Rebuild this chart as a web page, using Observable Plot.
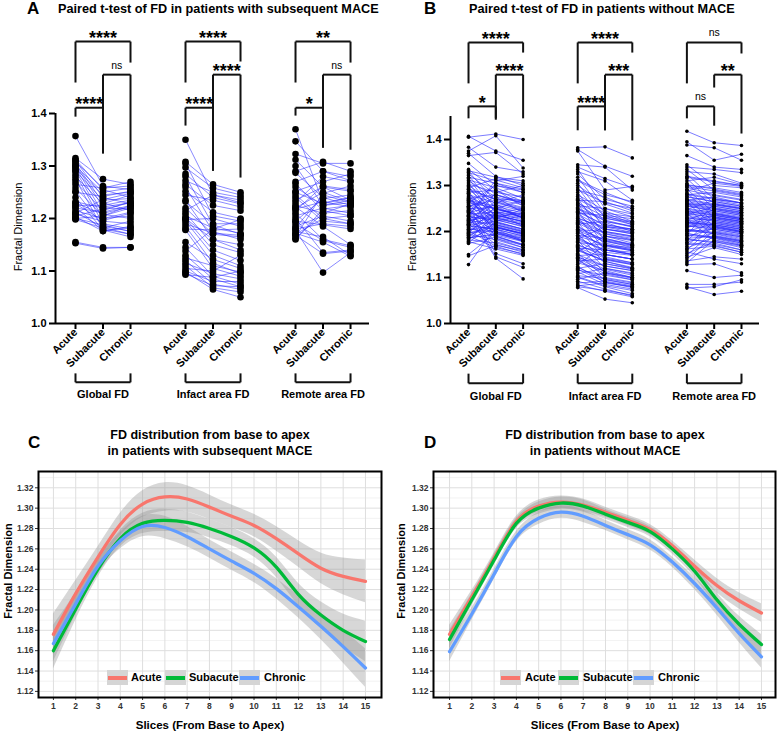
<!DOCTYPE html>
<html><head><meta charset="utf-8">
<script src="https://cdn.jsdelivr.net/npm/d3@7"></script>
<script src="https://cdn.jsdelivr.net/npm/@observablehq/plot@0.6"></script>
<style>
body{margin:0;background:#fff;}
#root{position:relative;width:777px;height:732px;font-family:"Liberation Sans",Arial,sans-serif;color:#000;overflow:hidden;background:#fff;}
.abs{position:absolute;white-space:nowrap;}
.letter{font-weight:bold;font-size:17px;line-height:17px;}
.ttl{font-weight:bold;font-size:12.7px;line-height:12px;}
.ttl2{font-weight:bold;font-size:12.5px;line-height:16px;text-align:center;width:300px;}
.ylab{font-size:11px;line-height:11px;transform:translate(-50%,-50%) rotate(-90deg);}
.ylab2{font-size:11px;font-weight:bold;line-height:11px;transform:translate(-50%,-50%) rotate(-90deg);}
.xlab{font-size:11.5px;font-weight:bold;line-height:12px;transform:translate(-50%,-50%);}
.key{position:absolute;width:21px;height:15px;background:#d5d5d5;}
.key i{position:absolute;left:1px;right:1px;top:6px;height:3.5px;display:block;}
.ktxt{font-size:11px;font-weight:bold;line-height:11px;}
.paired [aria-label="y-axis tick"] path,.paired [aria-label="x-axis tick"] path{stroke-width:2;}
svg{overflow:visible;}
</style></head>
<body><div id="root"></div>
<script>
// ---------- categories ----------
const times = ["Acute","Subacute","Chronic"];
const groups = ["Global FD","Infact area FD","Remote area FD"];

// ---------- Panel A: patients with subsequent MACE ----------
const A_global_acute = [1.357,1.315,1.312,1.310,1.308,1.305,1.302,1.300,1.298,1.295,1.292,1.290,1.285,1.280,1.275,1.270,1.265,1.258,1.252,1.250,1.240,1.232,1.228,1.225,1.222,1.220,1.215,1.212,1.210,1.208,1.205,1.203,1.200,1.200,1.198,1.155,1.153,1.230];
const A_global_subacute = [1.262,1.275,1.255,1.240,1.258,1.230,1.222,1.250,1.210,1.245,1.200,1.235,1.190,1.228,1.180,1.215,1.258,1.205,1.185,1.242,1.178,1.220,1.196,1.225,1.176,1.212,1.200,1.183,1.236,1.195,1.218,1.176,1.188,1.205,1.182,1.145,1.143,1.208];
const A_global_chronic = [1.255,1.265,1.240,1.228,1.262,1.215,1.230,1.258,1.222,1.250,1.205,1.238,1.180,1.245,1.170,1.232,1.270,1.225,1.176,1.252,1.165,1.218,1.210,1.235,1.185,1.225,1.212,1.170,1.248,1.190,1.230,1.183,1.175,1.220,1.195,1.145,1.145,1.200];
const A_infarct_acute = [1.350,1.308,1.305,1.297,1.285,1.280,1.272,1.265,1.260,1.252,1.245,1.235,1.232,1.220,1.215,1.210,1.205,1.200,1.198,1.195,1.190,1.185,1.180,1.178,1.155,1.145,1.138,1.130,1.125,1.120,1.115,1.110,1.105,1.100,1.098,1.095,1.093,1.200];
const A_infarct_subacute = [1.245,1.265,1.205,1.258,1.240,1.188,1.250,1.225,1.175,1.212,1.235,1.160,1.190,1.170,1.245,1.150,1.182,1.140,1.200,1.130,1.172,1.115,1.178,1.105,1.122,1.090,1.180,1.085,1.110,1.075,1.095,1.068,1.100,1.080,1.065,1.072,1.088,1.160];
const A_infarct_chronic = [1.235,1.250,1.195,1.245,1.228,1.170,1.240,1.215,1.160,1.200,1.222,1.140,1.190,1.165,1.230,1.135,1.172,1.120,1.185,1.110,1.168,1.095,1.180,1.090,1.105,1.075,1.198,1.070,1.098,1.065,1.085,1.060,1.130,1.080,1.050,1.070,1.100,1.150];
const A_remote_acute = [1.370,1.347,1.323,1.312,1.300,1.290,1.287,1.270,1.266,1.252,1.250,1.240,1.235,1.225,1.222,1.220,1.218,1.210,1.205,1.200,1.195,1.190,1.185,1.180,1.178,1.175,1.172,1.170,1.168,1.165,1.162,1.160,1.215,1.230,1.245,1.260,1.195,1.182];
const A_remote_subacute = [1.230,1.290,1.305,1.260,1.225,1.308,1.240,1.290,1.215,1.270,1.228,1.195,1.260,1.210,1.185,1.250,1.232,1.160,1.220,1.135,1.238,1.158,1.205,1.190,1.097,1.165,1.155,1.200,1.133,1.248,1.210,1.218,1.262,1.280,1.200,1.225,1.188,1.245];
const A_remote_chronic = [1.240,1.280,1.305,1.235,1.230,1.290,1.225,1.272,1.205,1.285,1.240,1.190,1.252,1.228,1.150,1.232,1.222,1.148,1.210,1.140,1.245,1.145,1.195,1.185,1.135,1.130,1.128,1.205,1.138,1.262,1.215,1.225,1.255,1.270,1.190,1.235,1.180,1.230];

// ---------- Panel B: patients without MACE ----------
const B_global_acute = [1.407,1.405,1.383,1.375,1.370,1.365,1.348,1.335,1.332,1.330,1.328,1.325,1.322,1.318,1.315,1.312,1.310,1.306,1.303,1.300,1.298,1.295,1.292,1.290,1.287,1.285,1.282,1.280,1.277,1.275,1.272,1.270,1.268,1.265,1.262,1.260,1.258,1.256,1.254,1.252,1.250,1.248,1.246,1.244,1.242,1.240,1.238,1.236,1.234,1.232,1.230,1.228,1.226,1.224,1.222,1.220,1.218,1.216,1.214,1.212,1.210,1.208,1.206,1.204,1.202,1.200,1.198,1.196,1.194,1.192,1.190,1.188,1.186,1.184,1.182,1.180,1.178,1.176,1.174,1.150,1.147,1.128,1.255,1.245,1.235,1.225,1.215,1.205,1.263,1.273,1.283,1.293,1.243,1.233,1.223,1.213,1.253,1.267,1.197,1.187];
const B_global_subacute = [1.375,1.412,1.340,1.408,1.320,1.372,1.300,1.290,1.318,1.265,1.310,1.280,1.250,1.305,1.240,1.295,1.275,1.230,1.285,1.260,1.222,1.315,1.245,1.270,1.208,1.290,1.235,1.262,1.196,1.248,1.280,1.215,1.255,1.228,1.300,1.205,1.240,1.268,1.190,1.232,1.252,1.210,1.275,1.185,1.220,1.258,1.242,1.200,1.312,1.226,1.178,1.238,1.265,1.214,1.196,1.250,1.230,1.172,1.222,1.205,1.285,1.190,1.244,1.212,1.168,1.235,1.200,1.255,1.182,1.218,1.165,1.228,1.195,1.208,1.175,1.240,1.162,1.220,1.188,1.198,1.170,1.210,1.152,1.145,1.142,1.232,1.262,1.200,1.250,1.225,1.185,1.270,1.215,1.305,1.236,1.205,1.280,1.248,1.210,1.192];
const B_global_chronic = [1.355,1.400,1.330,1.338,1.300,1.325,1.290,1.265,1.310,1.245,1.320,1.262,1.230,1.285,1.250,1.272,1.240,1.215,1.300,1.228,1.235,1.305,1.210,1.268,1.196,1.255,1.222,1.280,1.185,1.238,1.260,1.200,1.228,1.248,1.285,1.180,1.225,1.252,1.170,1.240,1.230,1.192,1.262,1.165,1.205,1.245,1.232,1.178,1.295,1.210,1.160,1.220,1.250,1.198,1.180,1.268,1.215,1.155,1.205,1.190,1.275,1.172,1.232,1.195,1.150,1.222,1.185,1.240,1.165,1.202,1.152,1.215,1.180,1.195,1.160,1.228,1.148,1.205,1.172,1.182,1.158,1.195,1.130,1.122,1.097,1.218,1.248,1.188,1.235,1.212,1.170,1.258,1.200,1.292,1.222,1.190,1.265,1.235,1.195,1.178];
const B_infarct_acute = [1.382,1.378,1.375,1.345,1.340,1.335,1.330,1.325,1.318,1.312,1.305,1.300,1.295,1.290,1.285,1.280,1.276,1.272,1.268,1.264,1.260,1.256,1.252,1.248,1.244,1.240,1.236,1.232,1.228,1.224,1.220,1.216,1.212,1.208,1.204,1.200,1.196,1.192,1.188,1.184,1.180,1.176,1.172,1.168,1.164,1.160,1.156,1.152,1.148,1.144,1.140,1.136,1.132,1.128,1.124,1.120,1.116,1.112,1.108,1.104,1.100,1.096,1.092,1.088,1.084,1.082,1.080,1.078,1.150,1.170,1.190,1.210,1.230,1.250,1.270,1.290,1.310,1.162,1.182,1.202,1.222,1.242,1.262,1.142,1.122,1.102,1.198,1.218,1.238,1.258,1.158,1.178,1.138,1.118,1.205,1.225,1.245,1.185,1.165,1.145];
const B_infarct_subacute = [1.384,1.342,1.290,1.340,1.315,1.250,1.310,1.270,1.240,1.285,1.230,1.260,1.220,1.275,1.205,1.245,1.235,1.190,1.265,1.215,1.180,1.250,1.200,1.225,1.170,1.235,1.195,1.160,1.210,1.185,1.150,1.222,1.175,1.140,1.200,1.165,1.130,1.185,1.155,1.210,1.120,1.170,1.145,1.110,1.160,1.135,1.190,1.100,1.150,1.125,1.095,1.140,1.115,1.170,1.090,1.130,1.105,1.085,1.120,1.098,1.080,1.110,1.075,1.092,1.070,1.088,1.072,1.053,1.125,1.150,1.172,1.180,1.205,1.228,1.240,1.262,1.280,1.135,1.160,1.178,1.195,1.215,1.232,1.112,1.096,1.082,1.168,1.190,1.206,1.222,1.138,1.150,1.108,1.090,1.182,1.198,1.212,1.160,1.142,1.118];
const B_infarct_chronic = [1.360,1.320,1.298,1.290,1.295,1.232,1.268,1.255,1.218,1.262,1.215,1.240,1.200,1.250,1.195,1.222,1.228,1.175,1.245,1.205,1.165,1.238,1.190,1.210,1.158,1.215,1.182,1.150,1.205,1.170,1.140,1.210,1.162,1.128,1.190,1.150,1.118,1.172,1.148,1.198,1.108,1.160,1.132,1.098,1.155,1.120,1.182,1.090,1.140,1.115,1.085,1.130,1.100,1.165,1.078,1.120,1.095,1.075,1.110,1.088,1.065,1.100,1.060,1.082,1.058,1.080,1.062,1.045,1.115,1.140,1.160,1.170,1.198,1.220,1.232,1.250,1.265,1.122,1.150,1.168,1.185,1.205,1.222,1.100,1.085,1.072,1.158,1.180,1.195,1.212,1.128,1.140,1.095,1.080,1.172,1.188,1.202,1.150,1.132,1.105];
const B_remote_acute = [1.418,1.395,1.388,1.365,1.345,1.340,1.335,1.330,1.325,1.320,1.315,1.310,1.305,1.300,1.296,1.292,1.288,1.284,1.280,1.276,1.272,1.268,1.264,1.260,1.256,1.252,1.248,1.244,1.240,1.236,1.232,1.228,1.224,1.220,1.216,1.212,1.208,1.204,1.200,1.196,1.192,1.188,1.184,1.180,1.176,1.172,1.168,1.164,1.160,1.156,1.152,1.148,1.144,1.140,1.136,1.132,1.128,1.115,1.085,1.080,1.077,1.250,1.230,1.210,1.270,1.290,1.240,1.220,1.260,1.200,1.280,1.225,1.245,1.265,1.205,1.185,1.215,1.235,1.255,1.275,1.195,1.175,1.298,1.318,1.242,1.262,1.222,1.202,1.182,1.162,1.282,1.302,1.228,1.248,1.212,1.192,1.268,1.238,1.258,1.218];
const B_remote_subacute = [1.393,1.355,1.382,1.340,1.300,1.335,1.290,1.325,1.270,1.310,1.260,1.318,1.250,1.295,1.280,1.240,1.305,1.230,1.285,1.265,1.220,1.275,1.210,1.258,1.245,1.200,1.268,1.235,1.190,1.255,1.225,1.180,1.248,1.215,1.238,1.205,1.228,1.195,1.218,1.185,1.262,1.208,1.175,1.232,1.198,1.170,1.222,1.188,1.212,1.140,1.178,1.202,1.165,1.192,1.145,1.182,1.130,1.100,1.085,1.063,1.080,1.242,1.222,1.235,1.260,1.278,1.230,1.212,1.250,1.205,1.270,1.218,1.238,1.255,1.198,1.190,1.210,1.228,1.245,1.265,1.188,1.172,1.288,1.308,1.236,1.252,1.215,1.196,1.178,1.168,1.272,1.292,1.225,1.240,1.208,1.186,1.258,1.232,1.248,1.214];
const B_remote_chronic = [1.387,1.368,1.355,1.335,1.295,1.328,1.280,1.305,1.262,1.300,1.250,1.302,1.242,1.285,1.270,1.228,1.298,1.222,1.275,1.255,1.210,1.262,1.200,1.250,1.235,1.190,1.258,1.225,1.178,1.245,1.215,1.170,1.238,1.205,1.228,1.195,1.218,1.182,1.208,1.172,1.252,1.198,1.160,1.222,1.188,1.155,1.212,1.175,1.202,1.130,1.165,1.192,1.150,1.180,1.140,1.170,1.110,1.105,1.090,1.070,1.095,1.232,1.212,1.225,1.250,1.268,1.220,1.200,1.240,1.195,1.262,1.208,1.228,1.245,1.188,1.180,1.200,1.218,1.235,1.255,1.178,1.160,1.278,1.300,1.226,1.242,1.205,1.185,1.168,1.155,1.262,1.282,1.215,1.230,1.198,1.175,1.248,1.222,1.238,1.204];

// significance brackets: [group, fromTime, toTime, level, leftLegEnd, rightLegEnd, label]
const sigA = [
  [0,0,2,1.537,1.459,1.497,"****"],[0,1,2,1.474,1.324,1.310,"ns"],[0,0,1,1.411,1.394,1.324,"****"],
  [1,0,2,1.537,1.459,1.499,"****"],[1,1,2,1.474,1.291,1.278,"****"],[1,0,1,1.411,1.377,1.291,"****"],
  [2,0,2,1.537,1.459,1.497,"**"],[2,1,2,1.474,1.335,1.331,"ns"],[2,0,1,1.411,1.396,1.335,"*"]
];
const sigB = [
  [0,0,2,1.611,1.522,1.589,"****"],[0,1,2,1.541,1.446,1.446,"****"],[0,0,1,1.472,1.446,1.443,"*"],
  [1,0,2,1.611,1.522,1.589,"****"],[1,1,2,1.541,1.420,1.398,"***"],[1,0,1,1.472,1.420,1.420,"****"],
  [2,0,2,1.611,1.522,1.587,"ns"],[2,1,2,1.541,1.513,1.413,"**"],[2,0,1,1.472,1.446,1.430,"ns"]
];

// ---------- Panels C & D: smoothed FD by slice ----------
const slices = [1,2,3,4,5,6,7,8,9,10,11,12,13,14,15];
const series = ["Acute","Subacute","Chronic"];
const seriesColors = ["#F8766D","#00BA38","#619CFF"];
const C_acute    = [1.176,1.216,1.252,1.284,1.304,1.311,1.309,1.301,1.292,1.283,1.270,1.255,1.241,1.233,1.228];
const C_subacute = [1.160,1.201,1.240,1.270,1.285,1.288,1.286,1.280,1.272,1.261,1.242,1.215,1.195,1.180,1.169];
const C_chronic  = [1.167,1.206,1.243,1.268,1.282,1.281,1.272,1.260,1.248,1.236,1.221,1.203,1.184,1.164,1.143];
const C_acute_ci    = [0.020,0.013,0.010,0.011,0.013,0.014,0.013,0.012,0.011,0.011,0.012,0.013,0.015,0.018,0.021];
const C_subacute_ci = [0.018,0.011,0.008,0.008,0.010,0.011,0.010,0.009,0.009,0.009,0.010,0.011,0.013,0.016,0.020];
const C_chronic_ci  = [0.018,0.011,0.008,0.008,0.010,0.011,0.010,0.009,0.009,0.009,0.010,0.011,0.013,0.016,0.019];
const D_acute    = [1.176,1.213,1.251,1.287,1.302,1.306,1.303,1.296,1.288,1.279,1.263,1.243,1.224,1.209,1.197];
const D_subacute = [1.171,1.210,1.249,1.285,1.300,1.305,1.302,1.294,1.286,1.277,1.260,1.238,1.210,1.186,1.166];
const D_chronic  = [1.159,1.196,1.235,1.272,1.290,1.296,1.292,1.283,1.274,1.264,1.247,1.226,1.202,1.177,1.154];
const D_acute_ci    = [0.009,0.006,0.005,0.005,0.006,0.006,0.006,0.005,0.005,0.005,0.005,0.006,0.007,0.008,0.009];
const D_subacute_ci = [0.009,0.006,0.005,0.005,0.006,0.006,0.006,0.005,0.005,0.005,0.005,0.006,0.007,0.008,0.010];
const D_chronic_ci  = [0.010,0.006,0.005,0.005,0.006,0.006,0.006,0.005,0.005,0.005,0.005,0.006,0.007,0.009,0.011];

const yTicksCD = [1.12,1.14,1.16,1.18,1.20,1.22,1.24,1.26,1.28,1.30,1.32];
const yMinorCD = [1.13,1.15,1.17,1.19,1.21,1.23,1.25,1.27,1.29,1.31,1.33];

const FONT = '"Liberation Sans", Arial, sans-serif';
const root = document.getElementById("root");

function addDiv(cls, left, top, html, extraStyle) {
  const d = document.createElement("div");
  d.className = "abs " + cls;
  d.style.left = left + "px"; d.style.top = top + "px";
  if (extraStyle) Object.assign(d.style, extraStyle);
  d.innerHTML = html;
  root.appendChild(d);
  return d;
}

function pairedPlot(arrs, sig, cfg) {
  const points = [];
  arrs.forEach((tri, g) => {
    const n = Math.min(tri[0].length, tri[1].length, tri[2].length);
    for (let i = 0; i < n; i++) {
      for (let t = 0; t < 3; t++) points.push({x: g * 4 + t, y: tri[t][i], pid: g * 1000 + i});
    }
  });
  const segs = [], stars = [], nss = [];
  for (const [g, a, b, lev, l1, l2, lab] of sig) {
    const x1 = g * 4 + a, x2 = g * 4 + b;
    segs.push({x1, y1: lev, x2: x1, y2: l1});
    segs.push({x1, y1: lev, x2, y2: lev});
    segs.push({x1: x2, y1: lev, x2, y2: l2});
    (lab === "ns" ? nss : stars).push({x: (x1 + x2) / 2, y: lev, text: lab});
  }
  const gsegs = [], glabs = [];
  groups.forEach((name, g) => {
    const x1 = g * 4, x2 = g * 4 + 2;
    gsegs.push({x1, y1: cfg.gTop, x2: x1, y2: cfg.gBot});
    gsegs.push({x1, y1: cfg.gBot, x2, y2: cfg.gBot});
    gsegs.push({x1: x2, y1: cfg.gBot, x2, y2: cfg.gTop});
    glabs.push({x: g * 4 + 1, y: cfg.gLab, text: name});
  });
  const xt = [];
  groups.forEach((_, g) => times.forEach((_, t) => xt.push(g * 4 + t)));
  return Plot.plot({
    width: cfg.width, height: 410,
    marginTop: cfg.mt, marginBottom: 87, marginLeft: cfg.ml, marginRight: cfg.mr,
    style: {fontFamily: FONT, fontSize: "11px", fontWeight: "bold", background: "transparent", color: "#000", overflow: "visible"},
    x: {type: "linear", domain: cfg.xd, ticks: xt, tickFormat: v => times[Math.round(v) % 4], tickRotate: -45, tickSize: 6, tickPadding: 1, label: null},
    y: {domain: cfg.yd, ticks: [1.0, 1.1, 1.2, 1.3, 1.4], tickFormat: d3.format(".1f"), tickSize: 6, tickPadding: 3, label: null},
    marks: [
      Plot.line(points, {x: "x", y: "y", z: "pid", stroke: "#2a2aff", strokeOpacity: cfg.lo, strokeWidth: cfg.lw}),
      Plot.dot(points, {x: "x", y: "y", r: cfg.r, fill: "#000"}),
      Plot.ruleX([cfg.xd[0]], {y1: 1.0, y2: cfg.yd[1], strokeWidth: 2}),
      Plot.ruleY([1.0], {x1: cfg.xd[0], x2: cfg.xd[1], strokeWidth: 2}),
      Plot.link(segs, {x1: "x1", y1: "y1", x2: "x2", y2: "y2", strokeWidth: 2, stroke: "#111"}),
      Plot.text(stars, {x: "x", y: "y", text: "text", fontSize: 18, fontWeight: "bold", dy: -3.3}),
      Plot.text(nss, {x: "x", y: "y", text: "text", fontSize: 10.5, fontWeight: "normal", dy: -9.4}),
      Plot.link(gsegs, {x1: "x1", y1: "y1", x2: "x2", y2: "y2", strokeWidth: 2, stroke: "#111"}),
      Plot.text(glabs, {x: "x", y: "y", text: "text", fontSize: 11, fontWeight: "bold"})
    ]
  });
}

function smoothPlot(curves, cfg) {
  const rows = [];
  curves.forEach(([mean, ci], k) => {
    slices.forEach((s, i) => rows.push({slice: s, series: series[k], mean: mean[i], lo: mean[i] - ci[i], hi: mean[i] + ci[i]}));
  });
  return Plot.plot({
    width: cfg.width, height: 272,
    marginTop: 11, marginBottom: 35, marginLeft: cfg.ml, marginRight: cfg.mr,
    style: {fontFamily: FONT, fontSize: "8.5px", fontWeight: "bold", background: "transparent", color: "#333", overflow: "visible"},
    x: {domain: cfg.xd, ticks: slices, tickFormat: d => String(d), tickSize: 3, tickPadding: 2, label: null},
    y: {domain: [1.114, 1.336], ticks: yTicksCD, tickFormat: d3.format(".2f"), tickSize: 3, tickPadding: 2, label: null},
    color: {domain: series, range: seriesColors},
    marks: [
      Plot.ruleY(yMinorCD.filter(v => v < 1.336), {stroke: "#ececec", strokeWidth: 0.7}),
      Plot.ruleY(yTicksCD, {stroke: "#dedede", strokeWidth: 1}),
      Plot.ruleX(slices, {stroke: "#dedede", strokeWidth: 1}),
      Plot.areaY(rows, {x: "slice", y1: "lo", y2: "hi", z: "series", fill: "#8f8f8f", fillOpacity: 0.36, curve: "natural"}),
      Plot.line(rows, {x: "slice", y: "mean", z: "series", stroke: "series", strokeWidth: 3.3, curve: "natural"}),
      Plot.frame({stroke: "#000", strokeWidth: 2})
    ]
  });
}

// ---- Panel A ----
const pA = pairedPlot(
  [[A_global_acute, A_global_subacute, A_global_chronic],
   [A_infarct_acute, A_infarct_subacute, A_infarct_chronic],
   [A_remote_acute, A_remote_subacute, A_remote_chronic]],
  sigA,
  {width: 390, mt: 113, ml: 55, mr: 21, xd: [-0.727, 10.69], yd: [1.0, 1.4], r: 3.3, lw: 1, lo: 0.55, gTop: 0.905, gBot: 0.888, gLab: 0.865});
const wA = addDiv("paired", 0, 0, ""); wA.appendChild(pA);

// ---- Panel B ----
const pB = pairedPlot(
  [[B_global_acute, B_global_subacute, B_global_chronic],
   [B_infarct_acute, B_infarct_subacute, B_infarct_chronic],
   [B_remote_acute, B_remote_subacute, B_remote_chronic]],
  sigB,
  {width: 387, mt: 116, ml: 60, mr: 18, xd: [-0.66, 10.66], yd: [1.0, 1.45], r: 1.8, lw: 1, lo: 0.62, gTop: 0.891, gBot: 0.870, gLab: 0.841});
const wB = addDiv("paired", 390, 0, ""); wB.appendChild(pB);

// ---- Panel C ----
const pC = smoothPlot([[C_acute, C_acute_ci], [C_subacute, C_subacute_ci], [C_chronic, C_chronic_ci]],
  {width: 390, ml: 38, mr: 9, xd: [0.33, 15.72]});
const wC = addDiv("", 0, 460, ""); wC.appendChild(pC);

// ---- Panel D ----
const pD = smoothPlot([[D_acute, D_acute_ci], [D_subacute, D_subacute_ci], [D_chronic, D_chronic_ci]],
  {width: 387, ml: 43, mr: 2, xd: [0.28, 15.63]});
const wD = addDiv("", 390, 460, ""); wD.appendChild(pD);

// ---- titles & labels ----
addDiv("letter", 27, 0, "A");
addDiv("ttl", 58, 3, "Paired t-test of FD in patients with subsequent MACE");
addDiv("letter", 424, 0, "B");
addDiv("ttl", 469, 3, "Paired t-test of FD in patients without MACE");
addDiv("ylab", 18, 227, "Fractal Dimension");
addDiv("ylab", 412, 227, "Fractal Dimension");

addDiv("letter", 28, 434, "C");
addDiv("ttl2", 60, 427, "FD distribution from base to apex<br>in patients with subsequent MACE");
addDiv("letter", 424, 434, "D");
addDiv("ttl2", 455, 427, "FD distribution from base to apex<br>in patients without MACE");
addDiv("ylab2", 8, 571, "Fractal Dimension");
addDiv("ylab2", 401, 571, "Fractal Dimension");
addDiv("xlab", 210, 725, "Slices (From Base to Apex)");
addDiv("xlab", 605, 725, "Slices (From Base to Apex)");

// legends
function legend(keyXs, txtXs) {
  series.forEach((s, k) => {
    const key = document.createElement("div");
    key.className = "key";
    key.style.left = keyXs[k] + "px"; key.style.top = "670px";
    key.innerHTML = `<i style="background:${seriesColors[k]}"></i>`;
    root.appendChild(key);
    addDiv("ktxt", txtXs[k], 672, s);
  });
}
legend([107, 165, 239], [131, 189, 264]);
legend([500, 558, 633], [525, 583, 658]);
</script></body></html>
